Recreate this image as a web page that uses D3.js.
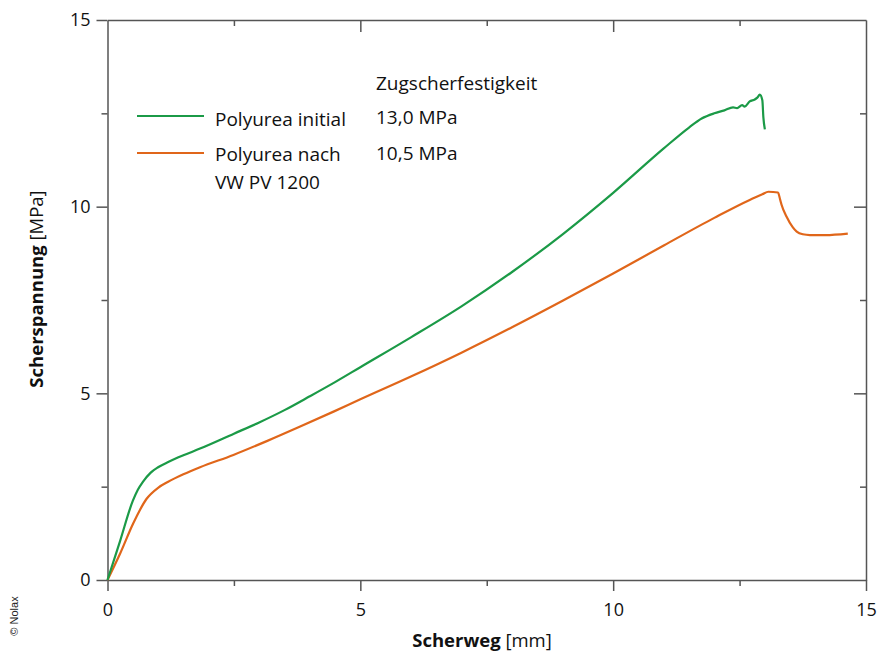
<!DOCTYPE html>
<html>
<head>
<meta charset="utf-8">
<script src="https://cdn.jsdelivr.net/npm/d3@7"></script>
<style>
  html, body { margin: 0; padding: 0; background: #fff; }
  svg { display: block; font-family: "Open Sans", "Noto Sans", sans-serif; }
</style>
</head>
<body>
<svg id="chart" width="878" height="652"></svg>
<script>
// ---- data ----
const greenX = [0, 0.25, 0.5, 0.6, 0.7, 0.85, 1.0, 1.2, 1.5, 1.83, 2.5, 3.0, 3.5, 4.0, 4.5, 5.0, 6.0, 7.0, 8.0, 9.0, 10.0, 11.0, 11.5, 11.75, 12.0, 12.2, 12.37, 12.45, 12.55, 12.6, 12.7, 12.8, 12.85, 12.9, 12.95, 12.97, 13.0];
const greenY = [0, 1.05, 2.12, 2.42, 2.63, 2.87, 3.02, 3.16, 3.34, 3.52, 3.92, 4.22, 4.55, 4.92, 5.30, 5.70, 6.50, 7.33, 8.25, 9.26, 10.37, 11.56, 12.12, 12.36, 12.5, 12.58, 12.66, 12.64, 12.72, 12.68, 12.82, 12.87, 12.92, 13.0, 12.85, 12.4, 12.07];
const orangeX = [0, 0.25, 0.51, 0.77, 1.0, 1.2, 1.5, 1.83, 2.49, 3.15, 3.81, 4.47, 5.0, 6.0, 7.0, 8.0, 9.0, 10.0, 11.0, 12.0, 12.7, 12.95, 13.07, 13.26, 13.30, 13.33, 13.43, 13.55, 13.63, 13.75, 13.89, 14.2, 14.64];
const orangeY = [0, 0.71, 1.52, 2.17, 2.47, 2.63, 2.83, 3.02, 3.35, 3.72, 4.11, 4.51, 4.84, 5.45, 6.09, 6.77, 7.48, 8.21, 8.96, 9.70, 10.18, 10.33, 10.40, 10.38, 10.2, 10.05, 9.73, 9.45, 9.33, 9.26, 9.24, 9.24, 9.28];
const seriesNames = ["Polyurea initial", "Polyurea nach"];
const seriesStrength = ["13,0 MPa", "10,5 MPa"];
const majorTicks = [0, 5, 10, 15];
const minorTicks = [2.5, 7.5, 12.5];
const xTitleBold = "Scherweg";
const xTitleUnit = " [mm]";
const yTitleBold = "Scherspannung";
const yTitleUnit = " [MPa]";

// ---- layout ----
const svg = d3.select("#chart");
const L = 107.5, R = 866, T = 20, B = 580;
const x = d3.scaleLinear().domain([0, 15]).range([L, R]);
const y = d3.scaleLinear().domain([0, 15]).range([B, T]);
const axisColor = "#555";
const green = "#1b9a47";
const orange = "#e0661a";

function styleAxis(g) {
  g.select(".domain").attr("stroke", axisColor).attr("stroke-width", 1.5);
  g.selectAll(".tick line").attr("stroke", axisColor).attr("stroke-width", 1.5);
  g.selectAll("text").attr("fill", "#111").style("font-size", "18px").style("font-family", "'Open Sans', sans-serif");
}

// bottom axis
const gB = svg.append("g").attr("transform", `translate(0,${B})`)
  .call(d3.axisBottom(x).tickValues(majorTicks).tickSize(11).tickSizeOuter(0).tickPadding(12).tickFormat(d3.format("d")));
styleAxis(gB);
const gBm = svg.append("g").attr("transform", `translate(0,${B})`)
  .call(d3.axisBottom(x).tickValues(minorTicks).tickSize(6).tickSizeOuter(0).tickFormat(""));
styleAxis(gBm); gBm.select(".domain").remove();

// left axis
const gL = svg.append("g").attr("transform", `translate(${L},0)`)
  .call(d3.axisLeft(y).tickValues(majorTicks).tickSize(11).tickSizeOuter(0).tickPadding(6).tickFormat(d3.format("d")));
styleAxis(gL);
const gLm = svg.append("g").attr("transform", `translate(${L},0)`)
  .call(d3.axisLeft(y).tickValues(minorTicks).tickSize(6).tickSizeOuter(0).tickFormat(""));
styleAxis(gLm); gLm.select(".domain").remove();

// top axis (inward)
const gT = svg.append("g").attr("transform", `translate(0,${T})`)
  .call(d3.axisTop(x).tickValues(majorTicks.slice(1, 3)).tickSize(-12).tickSizeOuter(0).tickFormat(""));
styleAxis(gT);
const gTm = svg.append("g").attr("transform", `translate(0,${T})`)
  .call(d3.axisTop(x).tickValues(minorTicks).tickSize(-6).tickSizeOuter(0).tickFormat(""));
styleAxis(gTm); gTm.select(".domain").remove();

// right axis (inward)
const gR = svg.append("g").attr("transform", `translate(${R},0)`)
  .call(d3.axisRight(y).tickValues(majorTicks.slice(1, 3)).tickSize(-12).tickSizeOuter(0).tickFormat(""));
styleAxis(gR);
const gRm = svg.append("g").attr("transform", `translate(${R},0)`)
  .call(d3.axisRight(y).tickValues(minorTicks).tickSize(-6).tickSizeOuter(0).tickFormat(""));
styleAxis(gRm); gRm.select(".domain").remove();

// ---- lines ----
const line = d3.line().x(d => x(d[0])).y(d => y(d[1])).curve(d3.curveMonotoneX);
const greenData = greenX.map((v, i) => [v, greenY[i]]);
const orangeData = orangeX.map((v, i) => [v, orangeY[i]]);
svg.append("path").datum(orangeData).attr("d", line)
  .attr("fill", "none").attr("stroke", orange).attr("stroke-width", 2.2).attr("stroke-linejoin", "round");
svg.append("path").datum(greenData).attr("d", line)
  .attr("fill", "none").attr("stroke", green).attr("stroke-width", 2.2).attr("stroke-linejoin", "round");

// ---- legend ----
const lg = svg.append("g").style("font-size", "19px").attr("fill", "#111");
lg.append("line").attr("x1", 137).attr("x2", 204).attr("y1", 116).attr("y2", 116).attr("stroke", green).attr("stroke-width", 2.2);
lg.append("line").attr("x1", 137).attr("x2", 204).attr("y1", 153).attr("y2", 153).attr("stroke", orange).attr("stroke-width", 2.2);
lg.append("text").attr("x", 215).attr("y", 126).text(seriesNames[0]);
lg.append("text").attr("x", 215).attr("y", 161).text(seriesNames[1]);
lg.append("text").attr("x", 215).attr("y", 189).text("VW PV 1200");
lg.append("text").attr("x", 376).attr("y", 90).text("Zugscherfestigkeit");
lg.append("text").attr("x", 376).attr("y", 124).text(seriesStrength[0]);
lg.append("text").attr("x", 376).attr("y", 160).text(seriesStrength[1]);

// ---- axis titles ----
const xt = svg.append("text").attr("x", 482).attr("y", 647).attr("text-anchor", "middle")
  .style("font-size", "18.5px").attr("fill", "#111");
xt.append("tspan").attr("font-weight", "bold").text(xTitleBold);
xt.append("tspan").text(xTitleUnit);

const yt = svg.append("text").attr("transform", "translate(43,289) rotate(-90)").attr("text-anchor", "middle")
  .style("font-size", "18.5px").attr("fill", "#111");
yt.append("tspan").attr("font-weight", "bold").text(yTitleBold);
yt.append("tspan").text(yTitleUnit);

svg.append("text").attr("transform", "translate(18,616) rotate(-90)").attr("text-anchor", "middle")
  .style("font-size", "11px").attr("fill", "#222").style("font-family", "'Liberation Sans', Arial, sans-serif").text("© Nolax");
</script>
</body>
</html>
